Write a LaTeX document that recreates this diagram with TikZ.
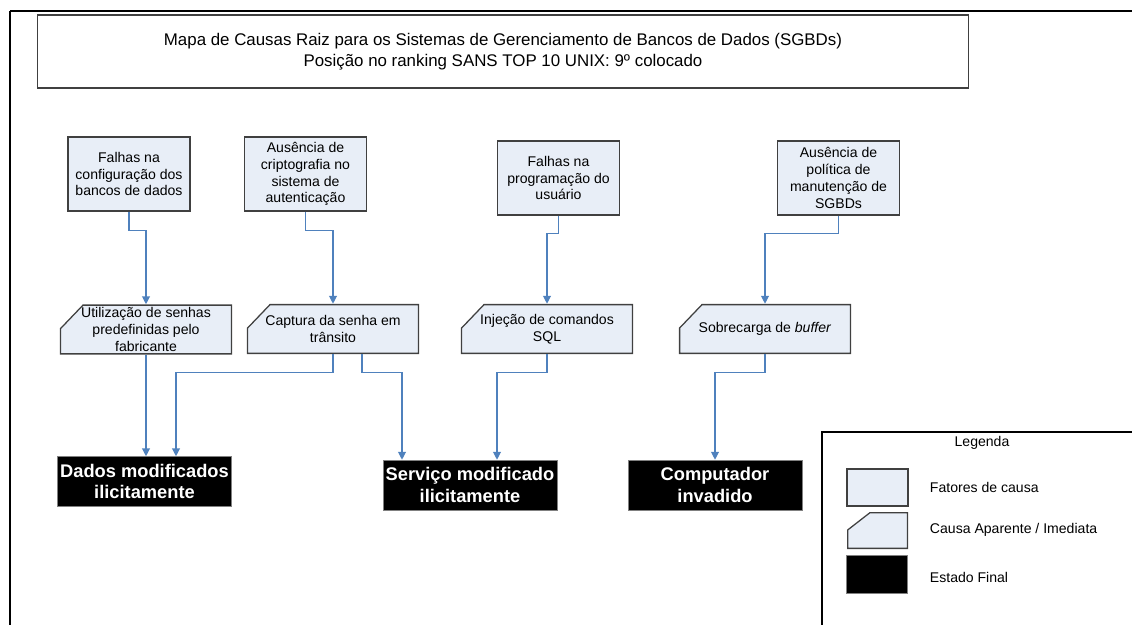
\documentclass[tikz,border=0pt]{standalone}
\usepackage{fontspec}
\setmainfont{Liberation Sans}
\usetikzlibrary{arrows.meta, calc}
\definecolor{causefill}{RGB}{232,238,247}
\definecolor{arrowblue}{RGB}{79,129,189}
\definecolor{boxgray}{RGB}{64,64,64}

\begin{document}
\begin{tikzpicture}[x=0.025cm, y=-0.025cm,
    fator/.style={draw=boxgray, line width=0.9pt, fill=causefill,
        minimum width=3.05cm, minimum height=1.85cm, inner sep=2pt,
        align=center, font=\fontsize{10}{12}\selectfont},
    causa/.style={rectangle, minimum width=4.3cm, minimum height=1.25cm, inner sep=2pt,
        align=center, font=\fontsize{10}{12}\selectfont,
        path picture={
            \path[fill=causefill, draw=boxgray, line width=0.9pt]
              ([shift={(0.575cm,-0.45pt)}]path picture bounding box.north west)
              -- ([shift={(-0.45pt,-0.45pt)}]path picture bounding box.north east)
              -- ([shift={(-0.45pt,0.45pt)}]path picture bounding box.south east)
              -- ([shift={(0.45pt,0.45pt)}]path picture bounding box.south west)
              -- ([shift={(0.45pt,-#1)}]path picture bounding box.north west)
              -- cycle;}},
    causa/.default=0.6cm,
    final/.style={draw=gray, fill=black, text=white,
        minimum width=4.35cm, minimum height=1.25cm, inner sep=2pt,
        align=center, font=\fontsize{13}{15.5}\selectfont\bfseries},
    link/.style={draw=arrowblue, line width=0.8pt,
        -{Triangle[length=5.5pt,width=5.5pt]}},
    legtext/.style={anchor=west, font=\fontsize{10}{12}\selectfont}]

    \useasboundingbox (0,0) rectangle (1132,625);

    % Frame
    \draw[line width=2pt] (1132,11) -- (10,11);
    \draw[line width=1pt] (10,11) -- (10,625);

    % Title
    \node[draw=boxgray, line width=0.8pt, minimum width=23.25cm, minimum height=1.825cm,
        align=center, font=\fontsize{12}{15}\selectfont] (title) at (503,51.5)
        {Mapa de Causas Raiz para os Sistemas de Gerenciamento de Bancos de Dados (SGBDs)\\
         Posição no ranking SANS TOP 10 UNIX: 9º colocado};

    % Fatores de causa
    \node[fator] (falhacfg) at (129,174) {Falhas na\\configuração dos\\bancos de dados};
    \node[fator] (semcripto) at (305.5,174) {Ausência de\\criptografia no\\sistema de\\autenticação};
    \node[fator] (falhaprog) at (558.5,178) {Falhas na\\programação do\\usuário};
    \node[fator] (sempolitica) at (838.5,178) {Ausência de\\política de\\manutenção de\\SGBDs};

    % Causas aparentes
    \node[causa] (senhas) at (146,329.5) {Utilização de senhas\\predefinidas pelo\\fabricante};
    \node[causa] (captura) at (333,329) {Captura da senha em\\trânsito};
    \node[causa] (injecao) at (547,329) {Injeção de comandos\\SQL};
    \node[causa] (buffer) at (765,329) {Sobrecarga de \textit{buffer}};

    % Estados finais
    \node[final] (dados) at (144.5,481.5) {Dados modificados\\ilicitamente};
    \node[final] (servico) at (470,485) {Serviço modificado\\ilicitamente};
    \node[final] (invadido) at (715,485) {Computador\\invadido};

    % Fatores -> causas
    \draw[link] (falhacfg.south) -- ++(0,19) -| (senhas.north);
    \draw[link] (semcripto.south) -- ++(0,19) -| (captura.north);
    \draw[link] (falhaprog.south) -- ++(0,18) -| (injecao.north);
    \draw[link] (sempolitica.south) -- ++(0,18) -| (buffer.north);

    % Causas -> estados finais
    \draw[link] (senhas.south) -- (senhas.south |- dados.north);
    \draw[link] (captura.south) -- ++(0,18) -| ($(dados.north)+(31.5,0)$);
    \draw[link] ($(captura.south)+(29,0)$) -- ++(0,18) -| ($(servico.north)+(-68,0)$);
    \draw[link] (injecao.south) -- ++(0,18) -| ($(servico.north)+(27,0)$);
    \draw[link] (buffer.south) -- ++(0,18) -| (invadido.north);

    % Legenda
    \draw[line width=0.8pt] (822,625) -- (822,432) -- (1132,432);
    \node[font=\fontsize{10}{12}\selectfont] (legenda) at (982,443) {Legenda};
    \node[fator, minimum width=1.525cm, minimum height=0.925cm] (legfator) at (877.5,487.5) {};
    \node[causa=0.45cm, minimum width=1.525cm, minimum height=0.925cm] (legcausa) at (877.5,530.5) {};
    \node[final, minimum width=1.525cm, minimum height=0.95cm] (legfinal) at (876.5,574) {};
    \node[legtext] at (925,487) {Fatores de causa};
    \node[legtext] at (925,530) {Causa Aparente / Imediata};
    \node[legtext] at (925,577) {Estado Final};
\end{tikzpicture}
\end{document}
